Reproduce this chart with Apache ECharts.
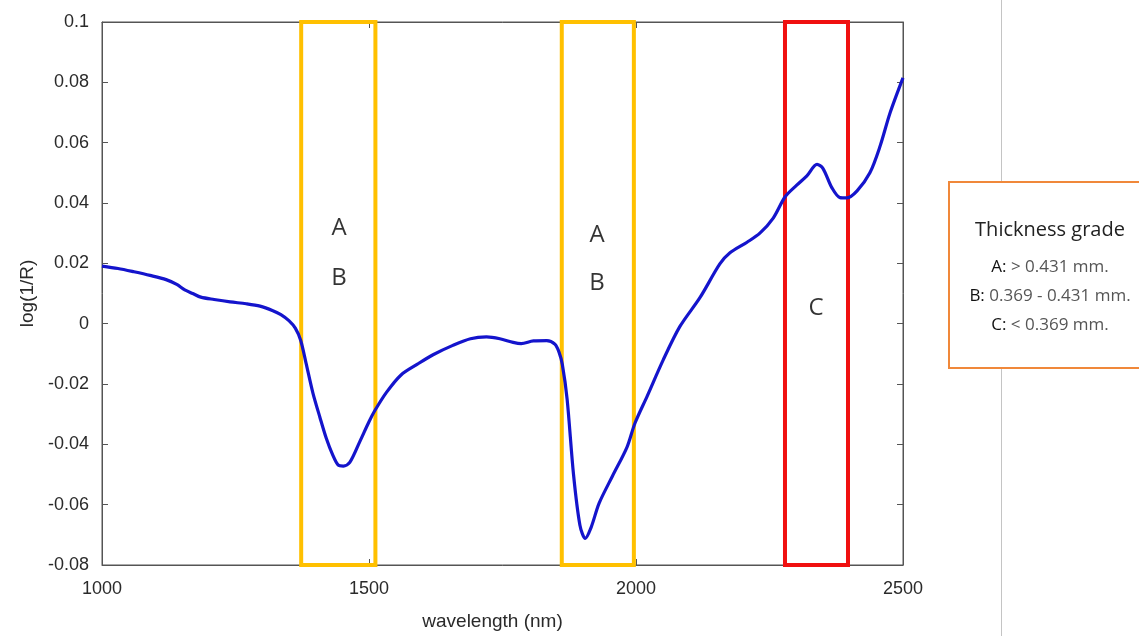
<!DOCTYPE html>
<html>
<head>
<meta charset="utf-8">
<script src="https://cdn.jsdelivr.net/npm/echarts@6/dist/echarts.min.js"></script>
<style>html,body{margin:0;padding:0;background:#fff}#c{width:1139px;height:636px}</style>
</head>
<body>
<div id="c"></div>
<script>
// wavelength (nm)
const wavelength = [1000,1030,1060,1090,1120,1140,1155,1170,1185,1210,1240,1270,1296,1320,1335,1350,1362,1372,1382,1395,1408,1420,1432,1442,1452,1464,1483,1500,1511,1533,1560,1590,1620,1657,1690,1720,1745,1770,1785,1808,1833,1848,1856,1862,1871,1883,1895,1905,1916,1931,1956,1983,1998,2021,2051,2082,2120,2157,2176,2208,2232,2257,2279,2301,2320,2339,2350,2367,2382,2395,2414,2438,2457,2476,2500];
// log(1/R)
const logR = [0.0191,0.0183,0.0172,0.0160,0.0146,0.0130,0.0112,0.0100,0.0088,0.0080,0.0072,0.0066,0.0058,0.0043,0.0030,0.0010,-0.0015,-0.0055,-0.0130,-0.0230,-0.0310,-0.0380,-0.0435,-0.0468,-0.0472,-0.0460,-0.0390,-0.0325,-0.0288,-0.0227,-0.0170,-0.0135,-0.0103,-0.0072,-0.0050,-0.0044,-0.0050,-0.0062,-0.0066,-0.0057,-0.0056,-0.0068,-0.0095,-0.0135,-0.0250,-0.0500,-0.0668,-0.0712,-0.0675,-0.0595,-0.0505,-0.0410,-0.0330,-0.0240,-0.0120,-0.0010,0.0087,0.0198,0.0235,0.0270,0.0300,0.0350,0.0420,0.0459,0.0490,0.0528,0.0515,0.0450,0.0418,0.0417,0.0440,0.0500,0.0588,0.0700,0.0815];
// highlighted bands [start, end] in nm
const bandsAB = [[1373,1512],[1861,1996]];
const bandC = [2279,2397];
// labels inside the bands: [text, wavelength, value]
const bandLabels = [['A',1444,0.0315],['B',1444,0.0151],['A',1927,0.0295],['B',1927,0.0134],['C',2337,0.0052]];
// legend lines
const legendTitle = 'Thickness grade';
const legendLines = [['A:', '> 0.431 mm.'],['B:', '0.369 - 0.431 mm.'],['C:', '< 0.369 mm.']];
const xTicks = {min:1000, max:2500, interval:500};
const yTicks = {min:-0.08, max:0.1, interval:0.02};

const chart = echarts.init(document.getElementById('c'));
const axisFont = {fontFamily:'Liberation Sans, Arial, sans-serif', fontSize:18, color:'#2a2a2a'};
const yFmt = v => String(+v.toFixed(2));
const xFmt = v => String(v);

const series = [{
  type:'line',
  data: wavelength.map((w,i)=>[w, logR[i]]),
  smooth: 0.3,
  showSymbol:false,
  clip:false,
  lineStyle:{color:'#1414cc', width:3.2},
  z:3,
  markArea:{
    silent:true,
    itemStyle:{color:'rgba(0,0,0,0)', borderColor:'#FFC000', borderWidth:4},
    data: bandsAB.map(b=>[{xAxis:b[0], yAxis:yTicks.max},{xAxis:b[1], yAxis:yTicks.min}])
  }
},{
  type:'line',
  data:[],
  clip:false,
  markArea:{
    silent:true,
    itemStyle:{color:'rgba(0,0,0,0)', borderColor:'#F01010', borderWidth:4},
    data:[[{xAxis:bandC[0], yAxis:yTicks.max},{xAxis:bandC[1], yAxis:yTicks.min}]]
  }
},{
  type:'scatter',
  data: bandLabels.map(l=>({value:[l[1], l[2]], name:l[0]})),
  symbolSize:0,
  silent:true,
  label:{show:true, position:'inside', formatter:p=>p.name, fontFamily:'Open Sans, Noto Sans, sans-serif', fontSize:24, color:'#000', textBorderWidth:0}
}];

const legendX = 1050;
const graphic = [
  {type:'line', shape:{x1:1001.5,y1:0,x2:1001.5,y2:636}, style:{stroke:'#c4c4c4', lineWidth:1}, z:0},
  {type:'rect', shape:{x:949, y:182, width:200, height:186}, style:{fill:'#fff', stroke:'#F0883A', lineWidth:2}, z:1},
  {type:'text', x:legendX, y:230, style:{text:legendTitle, fontFamily:'Open Sans, Noto Sans, sans-serif', fontSize:20, fill:'#222', align:'center', verticalAlign:'middle'}, z:2}
];
legendLines.forEach((l,i)=>{
  graphic.push({type:'text', x:legendX, y:267+i*29, z:2, style:{
    text:'{k|'+l[0]+'} {v|'+l[1]+'}', align:'center', verticalAlign:'middle',
    fontFamily:'Open Sans, Noto Sans, sans-serif', fontSize:17,
    rich:{k:{fontFamily:'Open Sans, Noto Sans, sans-serif', fontSize:17, fill:'#111'},
          v:{fontFamily:'Open Sans, Noto Sans, sans-serif', fontSize:17, fill:'#555'}}
  }});
});

const tickStyle = {inside:true, length:6, lineStyle:{color:'#555'}};
const lineStyle = {show:true, onZero:false, lineStyle:{color:'#555'}};

chart.setOption({
  animation:false,
  backgroundColor:'#fff',
  grid:{left:102, top:22, right:236, bottom:66, show:true, borderColor:'#555', borderWidth:1, backgroundColor:'#fff'},
  xAxis:[{
    type:'value', min:xTicks.min, max:xTicks.max, interval:xTicks.interval,
    name:'wavelength (nm)', nameLocation:'middle', nameGap:47,
    nameTextStyle:Object.assign({}, axisFont, {fontSize:19, padding:[0,20,0,0]}),
    axisLine:lineStyle, axisTick:tickStyle,
    axisLabel:Object.assign({margin:15, formatter:xFmt}, axisFont),
    splitLine:{show:false}
  },{
    type:'value', position:'top', min:xTicks.min, max:xTicks.max, interval:xTicks.interval,
    axisLine:lineStyle, axisTick:tickStyle,
    axisLabel:{show:false}, splitLine:{show:false}
  }],
  yAxis:[{
    type:'value', min:yTicks.min, max:yTicks.max, interval:yTicks.interval,
    name:'log(1/R)', nameLocation:'middle', nameGap:64,
    nameTextStyle:Object.assign({}, axisFont, {fontSize:19}),
    axisLine:lineStyle, axisTick:tickStyle,
    axisLabel:Object.assign({margin:13, formatter:yFmt, padding:[5,0,0,0]}, axisFont),
    splitLine:{show:false}
  },{
    type:'value', position:'right', min:yTicks.min, max:yTicks.max, interval:yTicks.interval,
    axisLine:lineStyle, axisTick:tickStyle,
    axisLabel:{show:false}, splitLine:{show:false}
  }],
  series: series,
  graphic: graphic
});
</script>
</body>
</html>
